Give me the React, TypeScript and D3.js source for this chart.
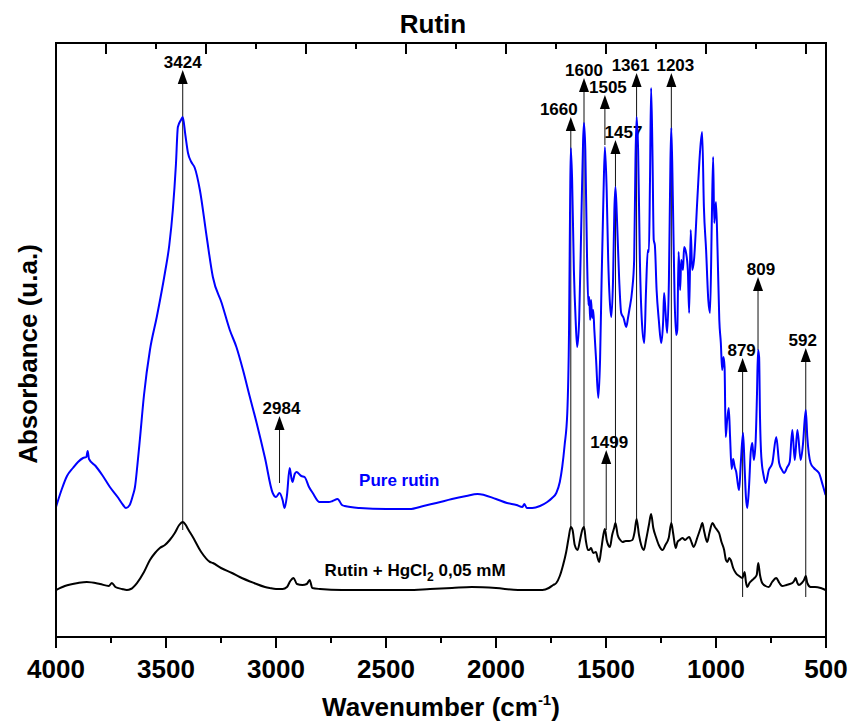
import React from 'react';
import * as d3 from 'd3';

// Pure rutin spectrum: [wavenumber (cm-1), absorbance (u.a.)]
const pureRutin: [number, number][] = [
  [4000,130],[3975,147],[3950,161],[3923,169],[3900,175],[3877,179],[3862,180],[3856,186],[3850,178],[3820,171],[3790,162],[3755,150],[3720,140],[3695,132],[3682,129],[3665,132],[3650,142],[3641,150],[3630,172],[3619,197],[3600,242],[3573,287],[3542,320],[3505,364],[3485,392],[3469,427],[3455,472],[3446,510],[3432,517],[3424,520],[3412,502],[3400,484],[3385,475],[3369,469],[3346,447],[3315,400],[3287,360],[3247,334],[3210,307],[3180,290],[3150,267],[3120,241],[3088,214],[3050,179],[3015,144],[3000,140],[2984,144],[2970,137],[2961,129],[2950,142],[2938,169],[2930,159],[2925,155],[2915,163],[2907,165],[2885,161],[2870,160],[2850,150],[2833,144],[2802,135],[2760,135],[2743,136],[2720,138],[2700,132],[2688,131],[2620,129],[2500,128],[2393,128],[2330,131],[2271,134],[2200,138],[2135,141],[2084,143],[2000,138],[1950,134],[1907,132],[1880,130],[1871,133],[1860,129],[1835,129],[1800,131],[1767,135],[1745,139],[1726,144],[1710,155],[1699,170],[1688,192],[1676,224],[1668,307],[1663,437],[1660,489],[1654,457],[1646,367],[1638,317],[1631,290],[1622,317],[1612,417],[1604,497],[1600,514],[1594,487],[1586,377],[1580,332],[1576,340],[1572,317],[1568,337],[1563,319],[1558,327],[1553,307],[1545,277],[1535,239],[1527,277],[1520,357],[1512,437],[1505,490],[1497,447],[1490,377],[1483,337],[1476,320],[1468,357],[1462,427],[1457,450],[1450,417],[1440,357],[1431,324],[1420,319],[1408,310],[1400,319],[1394,327],[1381,347],[1372,377],[1366,477],[1361,520],[1354,487],[1346,377],[1336,312],[1326,294],[1318,347],[1310,387],[1305,385],[1300,457],[1295,549],[1289,487],[1283,397],[1278,392],[1270,347],[1260,317],[1249,294],[1240,317],[1236,344],[1230,327],[1222,304],[1214,357],[1207,477],[1203,509],[1196,437],[1188,337],[1181,302],[1176,307],[1170,385],[1163,347],[1158,377],[1150,367],[1145,390],[1136,384],[1128,367],[1122,324],[1115,407],[1108,367],[1100,377],[1085,437],[1072,487],[1063,505],[1055,430],[1045,387],[1035,337],[1027,324],[1019,417],[1013,480],[1008,414],[1000,435],[993,387],[985,317],[978,294],[972,267],[966,280],[961,270],[956,200],[950,215],[942,229],[936,200],[929,168],[922,178],[915,170],[908,165],[900,152],[895,147],[887,175],[877,204],[870,170],[864,140],[858,129],[850,150],[842,185],[835,194],[828,177],[820,195],[814,240],[809,287],[804,280],[800,220],[794,180],[784,162],[774,154],[760,167],[744,174],[726,200],[713,174],[700,167],[691,164],[676,170],[665,175],[653,207],[642,177],[630,207],[615,177],[605,192],[592,227],[585,200],[570,174],[555,169],[540,166],[532,164],[515,152],[502,142]
];

// Rutin + HgCl2 0,05 mM spectrum
const rutinHg: [number, number][] = [
  [4000,47],[3960,51],[3900,54],[3860,55],[3800,53],[3760,51],[3746,54],[3730,50],[3700,48],[3678,47],[3660,48],[3632,54],[3600,65],[3573,77],[3550,84],[3528,89],[3505,92],[3483,97],[3460,104],[3440,112],[3424,115],[3410,112],[3400,108],[3378,100],[3340,85],[3300,75],[3287,74],[3250,69],[3200,64],[3165,60],[3100,54],[3050,50],[3029,49],[3000,48],[2970,48],[2950,50],[2935,56],[2920,59],[2905,53],[2880,52],[2860,53],[2847,57],[2835,49],[2800,48],[2700,47],[2600,47],[2500,47],[2400,47],[2300,48],[2200,49],[2110,50],[2000,49],[1900,47],[1789,47],[1760,49],[1740,52],[1726,54],[1710,61],[1695,72],[1681,85],[1670,99],[1660,110],[1652,107],[1642,92],[1629,87],[1618,97],[1608,107],[1600,110],[1592,97],[1582,87],[1576,87],[1568,89],[1558,84],[1546,85],[1538,79],[1531,75],[1522,87],[1512,102],[1505,108],[1497,97],[1490,92],[1482,90],[1472,102],[1463,109],[1457,114],[1447,102],[1435,97],[1425,95],[1410,96],[1395,96],[1380,97],[1370,105],[1361,118],[1350,102],[1340,92],[1328,87],[1318,97],[1305,112],[1295,123],[1285,109],[1273,100],[1260,92],[1243,87],[1230,92],[1215,99],[1203,114],[1195,104],[1183,89],[1175,95],[1165,97],[1153,99],[1140,97],[1130,99],[1122,100],[1110,94],[1102,90],[1084,100],[1070,109],[1062,114],[1055,107],[1047,99],[1040,95],[1030,104],[1016,114],[1005,110],[995,107],[986,104],[975,95],[963,87],[955,77],[948,75],[940,79],[933,77],[922,69],[910,64],[895,61],[880,59],[875,62],[870,65],[864,55],[858,50],[848,54],[835,57],[825,59],[815,62],[808,74],[800,62],[790,54],[775,51],[760,50],[745,55],[726,59],[712,54],[699,51],[680,52],[665,53],[653,54],[645,56],[638,59],[630,54],[623,52],[610,54],[600,57],[592,61],[585,54],[570,50],[550,50],[524,49],[502,47]
];

const xMajorTicks = [4000, 3500, 3000, 2500, 2000, 1500, 1000, 500];
const xMinorTicks = [3750, 3250, 2750, 2250, 1750, 1250, 750];
const topTicks = [1, 2, 3, 4, 5, 6, 7, 8, 9, 10, 11, 12, 13, 14, 15];

// Peak annotations
const peakLabels = ['3424', '2984', '1660', '1600', '1505', '1457', '1361', '1203', '1499', '879', '809', '592'];
const peakWn = [3424, 2984, 1660, 1600, 1505, 1457, 1361, 1203, 1499, 879, 809, 592];
const peakTip = [567, 221, 520, 559, 542, 497, 564, 564, 187, 279, 360, 289];
const peakBase = [107, 154, 110, 110, 492, 114, 118, 114, 107, 40, 287, 40];
const peakLabelDx = [0, 2, -12, 0, 3, 8, -6, 4, 3, -1, 3, -3];

const W = 853, H = 724;
const L = 56, R = 826, T = 43, B = 637;
const FONT = '"Liberation Sans", Arial, Helvetica, sans-serif';

export default function App() {
  const x = d3.scaleLinear().domain([4000, 500]).range([L, R]);
  const y = d3.scaleLinear().domain([0, 594]).range([B, T]);
  const xTop = d3.scaleLinear().domain([0, 15.4]).range([L, R]);

  const line = d3.line<[number, number]>()
    .x(d => x(d[0]))
    .y(d => y(d[1]))
    .curve(d3.curveMonotoneX);

  const arrowW = 5, arrowH = 14;

  return (
    <svg width={W} height={H} style={{ position: 'absolute', left: 0, top: 0, background: '#fff' }}
      fontFamily={FONT}>
      <defs>
        <clipPath id="plotClip">
          <rect x={L} y={T} width={R - L} height={B - T} />
        </clipPath>
      </defs>
      <rect x={0} y={0} width={W} height={H} fill="#fff" />

      {/* title */}
      <text x={433} y={33} textAnchor="middle" fontSize={26} fontWeight="bold">Rutin</text>

      {/* annotation lines */}
      {peakWn.map((wn, i) => {
        const px = x(wn);
        const tip = y(peakTip[i]);
        const base = y(peakBase[i]);
        return (
          <g key={'pk' + i}>
            <line x1={px} x2={px} y1={base} y2={tip + arrowH - 1} stroke="#111" strokeWidth={1} />
            <path d={`M${px},${tip} L${px - arrowW},${tip + arrowH} L${px + arrowW},${tip + arrowH} Z`} fill="#000" />
            <text x={px + peakLabelDx[i]} y={tip - 2} textAnchor="middle" fontSize={17} fontWeight="bold">{peakLabels[i]}</text>
          </g>
        );
      })}

      {/* spectra */}
      <g clipPath="url(#plotClip)">
        <path d={line(rutinHg) || ''} fill="none" stroke="#000" strokeWidth={2} strokeLinejoin="round" />
        <path d={line(pureRutin) || ''} fill="none" stroke="#0000ff" strokeWidth={2} strokeLinejoin="round" />
      </g>

      {/* curve labels */}
      <text x={x(2440)} y={y(151)} textAnchor="middle" fontSize={17} fontWeight="bold" fill="#0000ff">Pure rutin</text>
      <text x={x(2779)} y={y(61)} fontSize={17} fontWeight="bold" fill="#000">
        Rutin + HgCl<tspan fontSize={12} dy={5}>2</tspan><tspan dy={-5}> 0,05 mM</tspan>
      </text>

      {/* frame */}
      <rect x={L} y={T} width={R - L} height={B - T} fill="none" stroke="#000" strokeWidth={2} />

      {/* bottom ticks (outward) */}
      {xMajorTicks.map(t => (
        <line key={'M' + t} x1={x(t)} x2={x(t)} y1={B} y2={B + 11} stroke="#000" strokeWidth={2} />
      ))}
      {xMinorTicks.map(t => (
        <line key={'m' + t} x1={x(t)} x2={x(t)} y1={B} y2={B + 6} stroke="#000" strokeWidth={2} />
      ))}
      {/* top ticks (inward) */}
      {topTicks.map(t => (
        <line key={'t' + t} x1={xTop(t)} x2={xTop(t)} y1={T} y2={T + (t % 2 === 1 ? 11 : 6)} stroke="#000" strokeWidth={2} />
      ))}

      {/* tick labels */}
      {xMajorTicks.map(t => (
        <text key={'l' + t} x={x(t)} y={678} textAnchor="middle" fontSize={26} fontWeight="bold">{t}</text>
      ))}

      {/* axis titles */}
      <text x={441} y={716} textAnchor="middle" fontSize={26} fontWeight="bold">
        Wavenumber (cm<tspan fontSize={15} dy={-11}>-1</tspan><tspan dy={11}>)</tspan>
      </text>
      <text transform={`translate(37,354) rotate(-90)`} textAnchor="middle" fontSize={26} fontWeight="bold">Absorbance (u.a.)</text>
    </svg>
  );
}
